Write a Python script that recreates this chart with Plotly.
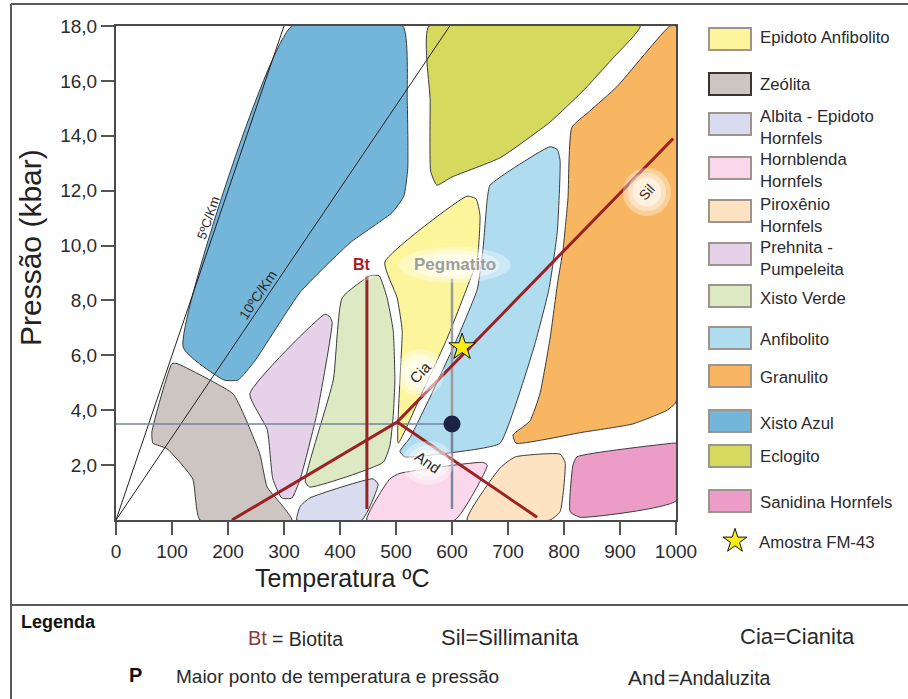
import plotly.graph_objects as go

# ---------------- facies fields (temperature °C, pressure kbar) ----------------
XISTO_AZUL_T = [314, 512, 520, 521, 514, 493, 418, 329, 248, 218, 193, 120]
XISTO_AZUL_P = [18, 18, 15.3, 12.8, 11.8, 11.2, 10.1, 8.3, 5.8, 5.1, 5.1, 6.3]

ECLOGITO_T = [559, 936, 886, 837, 775, 686, 600, 573, 562, 561]
ECLOGITO_P = [18, 18, 16.8, 15.7, 14.5, 13.2, 12.5, 12.2, 12.7, 15.3]

GRANULITO_T = [989, 1000, 1000, 984, 923, 834, 714, 709, 739, 757, 775, 789, 798, 807, 814, 846, 895]
GRANULITO_P = [18, 18, 4.3, 4.0, 3.5, 3.2, 2.8, 3.1, 3.6, 4.6, 6.6, 8.7, 9.8, 11.7, 14.3, 14.9, 15.8]

ANFIBOLITO_T = [775, 788, 793, 788, 773, 745, 686, 650, 516, 507, 525, 566, 609, 645, 655, 663, 668]
ANFIBOLITO_P = [13.6, 13.5, 13.1, 10.5, 8.4, 6.2, 2.8, 2.6, 2.3, 2.5, 3.0, 4.7, 6.6, 8.4, 9.8, 11.7, 12.2]

EPIDOTO_ANF_T = [480, 627, 643, 650, 645, 620, 591, 548, 504, 507, 511, 502]
EPIDOTO_ANF_P = [9.4, 11.8, 11.7, 11.1, 9.5, 8.1, 6.6, 4.7, 2.8, 5.1, 6.9, 8.1]

XISTO_VERDE_T = [404, 454, 470, 484, 495, 498, 495, 489, 477, 346, 338, 388]
XISTO_VERDE_P = [8.1, 8.9, 8.9, 8.1, 6.9, 5.1, 3.8, 2.7, 2.1, 1.2, 1.4, 5.1]

PREHNITA_T = [382, 373, 239, 270, 280, 296, 314, 329, 359, 386]
PREHNITA_P = [7.4, 7.5, 4.6, 3.3, 1.5, 0.8, 0.8, 1.5, 3.9, 7.2]

ZEOLITA_T = [109, 209, 227, 257, 270, 298, 314, 150, 137, 91, 66, 64, 100]
ZEOLITA_P = [5.7, 4.6, 3.9, 2.4, 1.2, 0.5, 0, 0, 1.5, 2.6, 2.8, 3.2, 5.7]

ALBITA_EP_T = [323, 329, 346, 459, 468, 439]
ALBITA_EP_P = [0, 0.5, 0.8, 1.5, 1.3, 0]

HORNBLENDA_T = [448, 489, 507, 655, 663, 605]
HORNBLENDA_P = [0, 1.5, 1.7, 2.1, 2.0, 0]

PIROXENIO_T = [627, 686, 713, 793, 802, 793, 775]
PIROXENIO_P = [0, 1.9, 2.3, 2.4, 2.1, 0.3, 0]

SANIDINA_T = [823, 995, 1000, 1000, 829, 811, 816]
SANIDINA_P = [2.3, 2.8, 2.8, 0.7, 0.1, 0.3, 2.0]

# ---------------- geotherms ----------------
GEO5_T, GEO5_P = [0, 300], [0, 18]
GEO10_T, GEO10_P = [0, 596], [0, 18]

# ---------------- reaction lines ----------------
BT_T, BT_P = [448, 448], [8.9, 0.4]                    # biotite isograd
KY_SIL_T, KY_SIL_P = [207, 502, 995], [0, 3.57, 13.9]  # And-Ky / Ky-Sil
AND_SIL_T, AND_SIL_P = [502, 752], [3.57, 0.1]         # And-Sil
PEG_T, PEG_TOP, PEG_BOTTOM = 600, 8.8, 0.4

# ---------------- sample points ----------------
PMAX_T, PMAX_P = 600, 3.5
AMOSTRA_T, AMOSTRA_P = 618, 6.3

# ---------------- axis ticks ----------------
X_TICKS = list(range(0, 1001, 100))
Y_TICKS = [2, 4, 6, 8, 10, 12, 14, 16, 18]
Y_TICK_TEXT = ["2,0", "4,0", "6,0", "8,0", "10,0", "12,0", "14,0", "16,0", "18,0"]

# ---------------- legend ----------------
LEGEND_LABELS = ["Epidoto Anfibolito", "Zeólita", "Albita - Epidoto<br>Hornfels",
                 "Hornblenda<br>Hornfels", "Piroxênio<br>Hornfels", "Prehnita -<br>Pumpeleita",
                 "Xisto Verde", "Anfibolito", "Granulito", "Xisto Azul", "Eclogito",
                 "Sanidina Hornfels"]
LEGEND_COLORS = ["#fcf59c", "#cdc5c1", "#d8dcee", "#fad7ea", "#fde3c1", "#e5d2e8",
                 "#dde9c3", "#b0dcf0", "#f8b562", "#74b6da", "#d5da5e", "#eb9cc7"]
LEGEND_BOX_TOP = [28, 73, 113, 157, 200, 243, 285, 327, 365, 410, 445, 490]
LEGEND_TEXT_Y = [37, 84, 127, 170, 215, 258, 298, 339, 377, 423, 456, 502]

W, H = 908, 699
X0, X1, Y0, Y1 = 116, 676, 26, 520   # plot area in pixels
FONT = "Liberation Sans, Arial, sans-serif"
OUTLINE = "#3b3b3b"
RED = "#9a2222"

fig = go.Figure()

facies = [
    (XISTO_AZUL_T, XISTO_AZUL_P, "#74b6da"),
    (ECLOGITO_T, ECLOGITO_P, "#d5da5e"),
    (GRANULITO_T, GRANULITO_P, "#f8b562"),
    (ANFIBOLITO_T, ANFIBOLITO_P, "#b0dcf0"),
    (EPIDOTO_ANF_T, EPIDOTO_ANF_P, "#fcf59c"),
    (XISTO_VERDE_T, XISTO_VERDE_P, "#dde9c3"),
    (PREHNITA_T, PREHNITA_P, "#e5d2e8"),
    (ZEOLITA_T, ZEOLITA_P, "#cdc5c1"),
    (ALBITA_EP_T, ALBITA_EP_P, "#d8dcee"),
    (HORNBLENDA_T, HORNBLENDA_P, "#fad7ea"),
    (PIROXENIO_T, PIROXENIO_P, "#fde3c1"),
    (SANIDINA_T, SANIDINA_P, "#eb9cc7"),
]
for t, p, c in facies:
    fig.add_trace(go.Scatter(x=t + t[:1], y=p + p[:1], mode="lines", fill="toself",
                             fillcolor=c, line=dict(color=OUTLINE, width=1, shape="spline", smoothing=0.45),
                             hoverinfo="skip", showlegend=False))

# geotherms
for t, p in [(GEO5_T, GEO5_P), (GEO10_T, GEO10_P)]:
    fig.add_trace(go.Scatter(x=t, y=p, mode="lines", line=dict(color="#222", width=1),
                             hoverinfo="skip", showlegend=False))

# horizontal reading line to the maximum P-T point
fig.add_trace(go.Scatter(x=[0, PMAX_T], y=[PMAX_P, PMAX_P], mode="lines",
                         line=dict(color="#7384a3", width=1.6), hoverinfo="skip", showlegend=False))
# pegmatite line
fig.add_trace(go.Scatter(x=[PEG_T, PEG_T], y=[PEG_TOP, PMAX_P], mode="lines",
                         line=dict(color="#9c9c9c", width=2.5), hoverinfo="skip", showlegend=False))
fig.add_trace(go.Scatter(x=[PEG_T, PEG_T], y=[PMAX_P, PEG_BOTTOM], mode="lines",
                         line=dict(color="#7b869b", width=2.5), hoverinfo="skip", showlegend=False))

# reaction lines
for t, p in [(BT_T, BT_P), (KY_SIL_T, KY_SIL_P), (AND_SIL_T, AND_SIL_P)]:
    fig.add_trace(go.Scatter(x=t, y=p, mode="lines", line=dict(color=RED, width=3),
                             hoverinfo="skip", showlegend=False))

# points
fig.add_trace(go.Scatter(x=[PMAX_T], y=[PMAX_P], mode="markers",
                         marker=dict(symbol="circle", size=17, color="#1d2442"),
                         hoverinfo="skip", showlegend=False))
fig.add_trace(go.Scatter(x=[AMOSTRA_T], y=[AMOSTRA_P], mode="markers",
                         marker=dict(symbol="star", size=20, color="#f8ec14",
                                     line=dict(color="#111", width=1)),
                         hoverinfo="skip", showlegend=False))

shapes = []
annotations = []

# soft white halos behind the in-plot labels
def halo(t, p, rx, ry):
    for k, a in [(1.0, 0.35), (0.8, 0.4), (0.6, 0.5)]:
        shapes.append(dict(type="circle", xref="x", yref="y", xsizemode="pixel", ysizemode="pixel",
                           xanchor=t, yanchor=p, x0=-rx * k, x1=rx * k, y0=-ry * k, y1=ry * k,
                           fillcolor="white", opacity=a, line=dict(width=0), layer="above"))

halo(440, 9.3, 18, 16)
halo(605, 9.3, 56, 18)
halo(948, 11.95, 24, 24)
halo(543, 5.36, 24, 24)
halo(557, 2.08, 26, 22)

def label(t, p, text, size, color="#2a2a2a", angle=0):
    annotations.append(dict(x=t, y=p, xref="x", yref="y", text=text, showarrow=False,
                            textangle=angle, font=dict(family=FONT, size=size, color=color)))

label(440, 9.3, "<b>Bt</b>", 16, "#a8201c")
label(605, 9.3, "<b>Pegmatito</b>", 17, "#9d9d9d")
label(948, 11.95, "Sil", 14, "#2a2a2a", -48)
label(543, 5.36, "Cia", 15, "#2a2a2a", -47)
label(557, 2.08, "And", 15, "#2a2a2a", 35)
label(164, 11.0, "5ºC/Km", 13, "#2a2a2a", -71)
label(253, 8.2, "10ºC/Km", 14, "#2a2a2a", -56)

# ---------------- page-level drawing in pixel space (x2/y2) ----------------
def pline(x0, y0, x1, y1, color="#5a5a5a", width=2):
    shapes.append(dict(type="line", xref="x2", yref="y2", x0=x0, y0=y0, x1=x1, y1=y1,
                       line=dict(color=color, width=width)))

pline(11, 4, 11, H)
pline(11, 4, W, 4)
pline(11, 605, W, 605)

def ptext(x, y, text, size, color="#2a2a2a", xanchor="left", angle=0, bold=False):
    annotations.append(dict(x=x, y=y, xref="x2", yref="y2", text=f"<b>{text}</b>" if bold else text,
                            showarrow=False, xanchor=xanchor, yanchor="middle", textangle=angle,
                            font=dict(family=FONT, size=size, color=color), align="left"))

# axis titles
ptext(342, 578, "Temperatura ºC", 25, "#222", xanchor="center")
ptext(30, 248, "Pressão (kbar)", 30, "#222", xanchor="center", angle=-90)

# facies legend
for lab, col, top, ty in zip(LEGEND_LABELS, LEGEND_COLORS, LEGEND_BOX_TOP, LEGEND_TEXT_Y):
    border = "#3a3330" if lab == "Zeólita" else "#9d948c"
    shapes.append(dict(type="rect", xref="x2", yref="y2", x0=709, x1=751, y0=top, y1=top + 22,
                       fillcolor=col, line=dict(color=border, width=2)))
    ptext(758, ty, lab, 16.8)

fig.add_trace(go.Scatter(x=[735], y=[541], xaxis="x2", yaxis="y2", mode="markers",
                         marker=dict(symbol="star", size=18, color="#f8ec14",
                                     line=dict(color="#111", width=1)),
                         hoverinfo="skip", showlegend=False))
ptext(757, 542, "Amostra FM-43", 16.8)

# bottom key
ptext(19, 622, "Legenda", 18, "#111", bold=True)
ptext(246, 638, "Bt", 20, "#8b3b3b")
ptext(270, 639, "= Biotita", 19.5)
ptext(439, 637, "Sil=Sillimanita", 22)
ptext(738, 636, "Cia=Cianita", 22)
ptext(127, 675, "P", 20, "#111", bold=True)
ptext(174, 676, "Maior ponto de temperatura e pressão", 19)
ptext(626, 677, "And", 21)
ptext(666, 678, "=Andaluzita", 19.5)

axis_common = dict(showgrid=False, zeroline=False, showline=True, linecolor="#4a4a4a",
                   linewidth=2, mirror=True, ticks="outside", ticklen=13, tickwidth=1.5,
                   tickcolor="#555", tickfont=dict(family=FONT, size=19, color="#2b2b2b"),
                   automargin=False)

fig.update_layout(
    width=W, height=H, autosize=False,
    margin=dict(l=0, r=0, t=0, b=0, pad=0),
    paper_bgcolor="white", plot_bgcolor="rgba(0,0,0,0)",
    xaxis=dict(domain=[X0 / W, X1 / W], range=[0, 1000], tickvals=X_TICKS, anchor="y",
               **axis_common),
    yaxis=dict(domain=[1 - Y1 / H, 1 - Y0 / H], range=[0, 18], tickvals=Y_TICKS,
               ticktext=Y_TICK_TEXT, anchor="x", **axis_common),
    xaxis2=dict(domain=[0, 1], range=[0, W], visible=False, anchor="y2", fixedrange=True,
                automargin=False),
    yaxis2=dict(domain=[0, 1], range=[H, 0], visible=False, anchor="x2", fixedrange=True,
                automargin=False),
    shapes=shapes, annotations=annotations, showlegend=False,
)

fig.write_html("out.html")
